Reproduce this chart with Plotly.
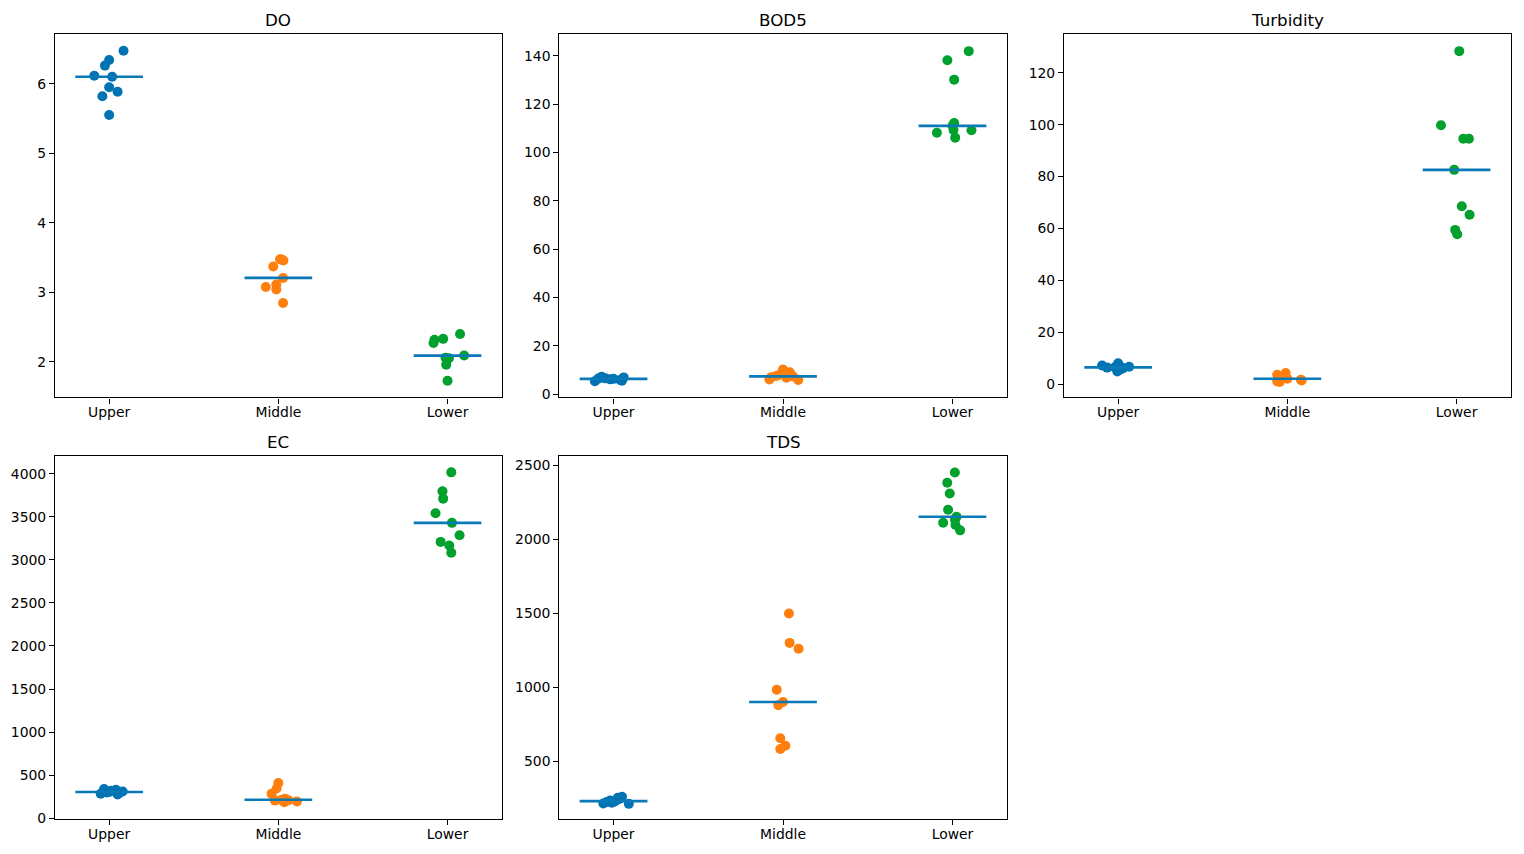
import numpy as np
import plotly.graph_objects as go

categories = ["Upper", "Middle", "Lower"]
panels = ["DO", "BOD5", "Turbidity", "EC", "TDS"]

# ---- values ----
do_upper = [6.475, 6.34, 6.26, 6.115, 6.10, 5.95, 5.82, 5.885, 5.55]
do_middle = [3.475, 3.456, 3.37, 3.206, 3.11, 3.077, 3.04, 2.846, 3.47]
do_lower = [2.40, 2.33, 2.317, 2.27, 2.09, 2.06, 2.05, 1.957, 1.727]

bod_upper = [5.3, 7.2, 6.5, 6.1, 6.3, 5.5, 6.9, 5.8, 6.4]
bod_middle = [10.2, 9.0, 7.5, 7.0, 6.0, 5.8, 7.3, 6.8, 8.0]
bod_lower = [141.9, 138.1, 130.1, 112.2, 111.0, 109.3, 109.2, 108.1, 106.1]

turb_upper = [7.3, 6.5, 8.2, 5.0, 6.8, 6.3, 7.0, 5.8, 6.6]
turb_middle = [3.7, 4.4, 1.2, 2.5, 1.8, 1.5, 3.0, 2.2, 1.0]
turb_lower = [128.3, 99.8, 94.6, 94.6, 82.6, 68.6, 65.3, 59.5, 57.8]

ec_upper = [340, 285, 320, 310, 275, 305, 330, 295, 300]
ec_middle = [410, 345, 285, 225, 215, 185, 195, 205, 210]
ec_lower = [4015, 3795, 3710, 3540, 3429, 3285, 3208, 3166, 3081]

tds_upper = [214, 235, 253, 260, 212, 219, 230, 245, 225]
tds_middle = [1498, 1299, 1260, 983, 900, 878, 655, 604, 583]
tds_lower = [2450, 2380, 2308, 2198, 2151, 2130, 2110, 2095, 2059]

# ---- horizontal strip jitter (category units) ----
do_upper_jit = [0.085, 0.0, -0.025, -0.088, 0.018, 0.0, -0.04, 0.05, 0.0]
do_middle_jit = [0.01, 0.03, -0.03, 0.028, -0.012, -0.074, -0.012, 0.028, 0.02]
do_lower_jit = [0.074, -0.026, -0.077, -0.083, 0.098, -0.012, 0.008, -0.008, 0.0]

bod_upper_jit = [-0.11, -0.07, -0.05, -0.02, 0.0, 0.05, 0.06, 0.04, -0.09]
bod_middle_jit = [0.0, 0.04, -0.04, -0.07, -0.08, 0.09, 0.06, 0.02, -0.02]
bod_lower_jit = [0.096, -0.03, 0.01, 0.01, 0.0, 0.006, 0.112, -0.092, 0.016]

turb_upper_jit = [-0.095, -0.065, 0.0, -0.005, 0.065, 0.03, 0.01, 0.015, -0.02]
turb_middle_jit = [-0.06, -0.01, -0.06, -0.02, 0.08, 0.085, -0.03, 0.0, -0.045]
turb_lower_jit = [0.016, -0.092, 0.04, 0.073, -0.014, 0.031, 0.077, -0.008, 0.004]

ec_upper_jit = [-0.03, -0.05, 0.01, 0.08, 0.05, 0.0, 0.04, 0.06, -0.015]
ec_middle_jit = [0.0, -0.01, -0.04, 0.04, 0.02, 0.035, 0.11, -0.02, 0.06]
ec_lower_jit = [0.022, -0.03, -0.026, -0.071, 0.026, 0.071, -0.041, 0.01, 0.022]

tds_upper_jit = [-0.06, -0.02, 0.025, 0.05, 0.09, -0.01, 0.01, 0.035, -0.04]
tds_middle_jit = [0.035, 0.039, 0.092, -0.037, 0.0, -0.028, -0.016, 0.014, -0.016]
tds_lower_jit = [0.014, -0.031, -0.016, -0.026, 0.024, 0.015, -0.055, 0.018, 0.045]

# y-axis ranges and ticks
y_ranges = [[1.487, 6.715], [-1.4, 149.0], [-5.0, 134.9], [-6.5, 4208.0], [111.0, 2563.0]]
y_ticks = [[2, 3, 4, 5, 6], list(range(0, 141, 20)), list(range(0, 121, 20)),
           list(range(0, 4001, 500)), list(range(500, 2501, 500))]

values = [
    [do_upper, do_middle, do_lower],
    [bod_upper, bod_middle, bod_lower],
    [turb_upper, turb_middle, turb_lower],
    [ec_upper, ec_middle, ec_lower],
    [tds_upper, tds_middle, tds_lower],
]
jitters = [
    [do_upper_jit, do_middle_jit, do_lower_jit],
    [bod_upper_jit, bod_middle_jit, bod_lower_jit],
    [turb_upper_jit, turb_middle_jit, turb_lower_jit],
    [ec_upper_jit, ec_middle_jit, ec_lower_jit],
    [tds_upper_jit, tds_middle_jit, tds_lower_jit],
]

colors = ["#0173b2", "#ff7f0e", "#02a02c"]
line_color = "#0a79b8"

W, H = 1524, 854
HE = 847.5  # effective rendered height observed
col_dom = [[55 / W, 501.7 / W], [559.3 / W, 1006.7 / W], [1064 / W, 1510.7 / W]]
row_dom = [[1 - 397.7 / HE, 1 - 34 / HE], [1 - 819.3 / HE, 1 - 456 / HE]]
FONT = "DejaVu Sans"

fig = go.Figure()
layout = dict(width=W, height=H, margin=dict(l=0, r=0, t=0, b=0),
              paper_bgcolor="white", plot_bgcolor="white", showlegend=False,
              font=dict(family=FONT, color="black", size=13.9))
annotations = []

for p, name in enumerate(panels):
    r, c = divmod(p, 3)
    k = p + 1
    xa = "x" if k == 1 else f"x{k}"
    ya = "y" if k == 1 else f"y{k}"
    for i, cat in enumerate(categories):
        vals = values[p][i]
        xs = [i + j for j in jitters[p][i]]
        fig.add_trace(go.Scatter(x=xs, y=vals, mode="markers", xaxis=xa, yaxis=ya,
                                 marker=dict(size=10, color=colors[i], line=dict(width=0)),
                                 hoverinfo="y"))
    for i, cat in enumerate(categories):
        med = float(np.median(values[p][i]))
        fig.add_trace(go.Scatter(x=[i - 0.2, i + 0.2], y=[med, med], mode="lines",
                                 xaxis=xa, yaxis=ya,
                                 line=dict(color=line_color, width=2.7), hoverinfo="skip"))
    axis_common = dict(showgrid=False, zeroline=False, showline=True, linecolor="black",
                       linewidth=1.1, mirror=True, ticks="outside", ticklen=5, tickwidth=1.1,
                       tickcolor="black", tickfont=dict(family=FONT, size=13.9, color="black"))
    layout["xaxis" if k == 1 else f"xaxis{k}"] = dict(
        domain=col_dom[c], anchor=ya, range=[-0.32, 2.32], ticklabelstandoff=-3,
        tickmode="array", tickvals=[0, 1, 2], ticktext=categories, **axis_common)
    layout["yaxis" if k == 1 else f"yaxis{k}"] = dict(
        domain=row_dom[r], anchor=xa, range=y_ranges[p],
        tickmode="array", tickvals=y_ticks[p], ticktext=[str(t) for t in y_ticks[p]],
        **axis_common)
    annotations.append(dict(text=name, x=(col_dom[c][0] + col_dom[c][1]) / 2,
                            y=row_dom[r][1], xref="paper", yref="paper",
                            xanchor="center", yanchor="bottom", yshift=2, showarrow=False,
                            font=dict(family=FONT, size=16.7, color="black")))

layout["annotations"] = annotations
fig.update_layout(**layout)
fig.write_html("out.html")
